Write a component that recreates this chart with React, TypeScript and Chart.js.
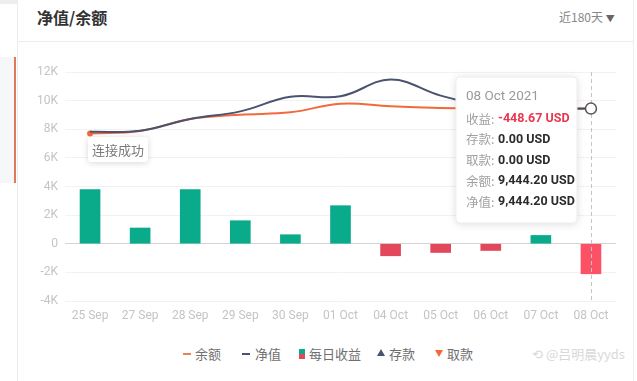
import React, { useEffect, useRef } from 'react';
import { Chart, registerables } from 'chart.js';

Chart.register(...registerables);

const categories = ['25 Sep', '27 Sep', '28 Sep', '29 Sep', '30 Sep', '01 Oct', '04 Oct', '05 Oct', '06 Oct', '07 Oct', '08 Oct'];
const dailyPnl = [3780, 1100, 3780, 1610, 630, 2660, -840, -610, -470, 580, -2100];
const balance = [7700, 7880, 8720, 9020, 9180, 9780, 9600, 9480, 9420, 9444, 9444];
const equity = [7820, 7900, 8720, 9250, 10270, 10300, 11470, 10350, 9600, 9444, 9444];

const yMin = -4000;
const yMax = 12000;
const yStep = 2000;

const activeIndex = 10;
const tooltipTitle = '08 Oct 2021';
const tooltipLabels = ['收益', '存款', '取款', '余额', '净值'];
const tooltipValues = ['-448.67 USD', '0.00 USD', '0.00 USD', '9,444.20 USD', '9,444.20 USD'];

const legendItems = ['余额', '净值', '每日收益', '存款', '取款'];

const GREEN = '#0aab8a';
const RED = '#e2475c';
const RED_ACTIVE = '#fd5266';
const ORANGE = '#f26a3c';
const NAVY = '#4a5470';

const CJK = '"Noto Sans CJK SC", "Noto Sans", sans-serif';
const NUM = 'Roboto, "Noto Sans", sans-serif';

const hoverPlugin = {
  id: 'hoverPlugin',
  afterDatasetsDraw(chart: any) {
    const { ctx, chartArea, scales } = chart;
    const x = scales.x.getPixelForValue(activeIndex);
    ctx.save();
    ctx.strokeStyle = '#c4c4c4';
    ctx.lineWidth = 1;
    ctx.setLineDash([4, 3]);
    ctx.beginPath();
    ctx.moveTo(Math.round(x) + 0.5, chartArea.top);
    ctx.lineTo(Math.round(x) + 0.5, chartArea.bottom);
    ctx.stroke();
    ctx.setLineDash([]);
    const y = scales.y.getPixelForValue(equity[activeIndex]);
    ctx.beginPath();
    ctx.arc(x, y, 5.5, 0, Math.PI * 2);
    ctx.fillStyle = '#fff';
    ctx.fill();
    ctx.strokeStyle = '#555';
    ctx.lineWidth = 1.5;
    ctx.stroke();
    ctx.restore();
  },
  afterDraw(chart: any) {
    const { ctx, chartArea, scales } = chart;
    const px = scales.x.getPixelForValue(activeIndex);
    const left = px - 135;
    const top = chartArea.top + 5;
    const w = 121;
    const h = 146;
    ctx.save();
    ctx.shadowColor = 'rgba(0,0,0,0.15)';
    ctx.shadowBlur = 8;
    ctx.shadowOffsetY = 1;
    ctx.fillStyle = '#fff';
    ctx.beginPath();
    (ctx as any).roundRect(left, top, w, h, 4);
    ctx.fill();
    ctx.shadowColor = 'transparent';
    ctx.strokeStyle = '#eeeeee';
    ctx.lineWidth = 1;
    ctx.stroke();
    ctx.textBaseline = 'middle';
    ctx.textAlign = 'left';
    ctx.fillStyle = '#9a9a9a';
    ctx.font = `13.5px ${NUM}`;
    ctx.fillText(tooltipTitle, left + 10, top + 20);
    tooltipLabels.forEach((lab, i) => {
      const ly = top + 42 + i * 20.7;
      ctx.font = `12.5px ${CJK}`;
      ctx.fillStyle = '#a0a0a0';
      ctx.fillText(lab + ':', left + 10, ly);
      ctx.font = `bold 12.5px ${NUM}`;
      ctx.fillStyle = i === 0 ? '#e8384f' : '#2b2b2b';
      ctx.fillText(tooltipValues[i], left + 42, ly);
    });
    ctx.restore();
  },
};

function ChartCanvas() {
  const ref = useRef<HTMLCanvasElement>(null);
  useEffect(() => {
    if (!ref.current) return;
    const barColors = dailyPnl.map((v, i) => (i === activeIndex ? RED_ACTIVE : v >= 0 ? GREEN : RED));
    const chart = new Chart(ref.current, {
      type: 'bar',
      data: {
        labels: categories,
        datasets: [
          {
            type: 'line',
            label: '净值',
            data: equity,
            borderColor: NAVY,
            backgroundColor: NAVY,
            borderWidth: 2,
            tension: 0.4,
            pointRadius: 0,
            order: 0,
          } as any,
          {
            type: 'line',
            label: '余额',
            data: balance,
            borderColor: ORANGE,
            backgroundColor: ORANGE,
            borderWidth: 2,
            tension: 0.4,
            pointRadius: balance.map((_, i) => (i === 0 ? 3 : 0)),
            pointBorderWidth: 0,
            order: 1,
          } as any,
          {
            type: 'bar',
            label: '每日收益',
            data: dailyPnl,
            backgroundColor: barColors,
            barThickness: 20,
            order: 2,
          } as any,
        ],
      },
      options: {
        animation: false,
        responsive: false,
        maintainAspectRatio: false,
        events: [],
        layout: { padding: { top: 30, right: 17, left: 0, bottom: 0 } },
        plugins: {
          legend: { display: false },
          tooltip: { enabled: false },
        },
        scales: {
          x: {
            grid: { display: false, drawTicks: false },
            border: { display: false },
            ticks: {
              color: '#c4c4c4',
              font: { size: 12, family: NUM },
              padding: 8,
              maxRotation: 0,
              autoSkip: false,
            },
            afterFit(scale: any) {
              scale.height = 41;
            },
          },
          y: {
            min: yMin,
            max: yMax,
            grid: {
              drawTicks: false,
              color: (c: any) => (c.tick && c.tick.value === 0 ? '#d4d4d4' : '#f2f2f2'),
            },
            border: { display: false },
            ticks: {
              stepSize: yStep,
              color: '#c4c4c4',
              font: { size: 12, family: NUM },
              padding: 7,
              callback: (v: any) => (v === 0 ? '0' : `${v / 1000}K`),
            },
            afterFit(scale: any) {
              scale.width = 48;
            },
          },
        },
      },
      plugins: [hoverPlugin],
    });
    return () => chart.destroy();
  }, []);
  return <canvas ref={ref} width={616} height={300} style={{ position: 'absolute', left: 17, top: 42, width: 616, height: 300 }} />;
}

export default function App() {
  const abs = (s: any) => ({ position: 'absolute' as const, ...s });
  const legendText = { fontFamily: CJK, fontSize: 13, color: '#6f6f6f', lineHeight: '16px' };
  return (
    <div style={abs({ left: 0, top: 0, width: 637, height: 381, background: '#fff', overflow: 'hidden' })}>
      <div style={abs({ left: 0, top: 0, width: 17, height: 4, background: '#eeeeee' })} />
      <div style={abs({ left: 0, top: 57, width: 14, height: 126, background: '#f6f7f9', borderRight: '2px solid #e2775a' })} />
      <div style={abs({ left: 17, top: 0, width: 1, height: 381, background: '#ececec' })} />
      <div style={abs({ left: 633, top: 0, width: 1, height: 381, background: '#eeeeee' })} />
      <div style={abs({ left: 37, top: 6, fontFamily: CJK, fontSize: 16, fontWeight: 600, color: '#333', lineHeight: '22px' })}>净值/余额</div>
      <div style={abs({ left: 559, top: 9, fontFamily: CJK, fontSize: 12, color: '#888', lineHeight: '16px' })}>
        近180天 <span style={{ fontSize: 9, color: '#666' }}>▼</span>
      </div>
      <div style={abs({ left: 18, top: 41, width: 615, height: 1, background: '#ececec' })} />
      <ChartCanvas />
      <div style={abs({ left: 88, top: 137, width: 60, height: 25, background: '#fff', borderRadius: 3, boxShadow: '0 1px 6px rgba(0,0,0,0.16)', fontFamily: CJK, fontSize: 13, color: '#7a7a7a', lineHeight: '25px', textAlign: 'center' })}>连接成功</div>
      {/* legend */}
      <div style={abs({ left: 183, top: 353, width: 8, height: 2, background: '#e8825a' })} />
      <div style={abs({ left: 195, top: 346, ...legendText })}>{legendItems[0]}</div>
      <div style={abs({ left: 242, top: 353, width: 8, height: 2, background: NAVY })} />
      <div style={abs({ left: 255, top: 346, ...legendText })}>{legendItems[1]}</div>
      <div style={abs({ left: 299, top: 349, width: 6, height: 5, background: GREEN })} />
      <div style={abs({ left: 299, top: 354, width: 6, height: 5, background: RED })} />
      <div style={abs({ left: 309, top: 346, ...legendText })}>{legendItems[2]}</div>
      <div style={abs({ left: 377, top: 349, width: 0, height: 0, borderLeft: '4px solid transparent', borderRight: '4px solid transparent', borderBottom: `7px solid ${NAVY}` })} />
      <div style={abs({ left: 389, top: 346, ...legendText })}>{legendItems[3]}</div>
      <div style={abs({ left: 435, top: 350, width: 0, height: 0, borderLeft: '4px solid transparent', borderRight: '4px solid transparent', borderTop: `7px solid ${ORANGE}` })} />
      <div style={abs({ left: 447, top: 346, ...legendText })}>{legendItems[4]}</div>
      <div style={abs({ left: 532, top: 345, fontFamily: CJK, fontSize: 13, color: '#d8d8d8', lineHeight: '18px' })}>⟲ @吕明晨yyds</div>
    </div>
  );
}
